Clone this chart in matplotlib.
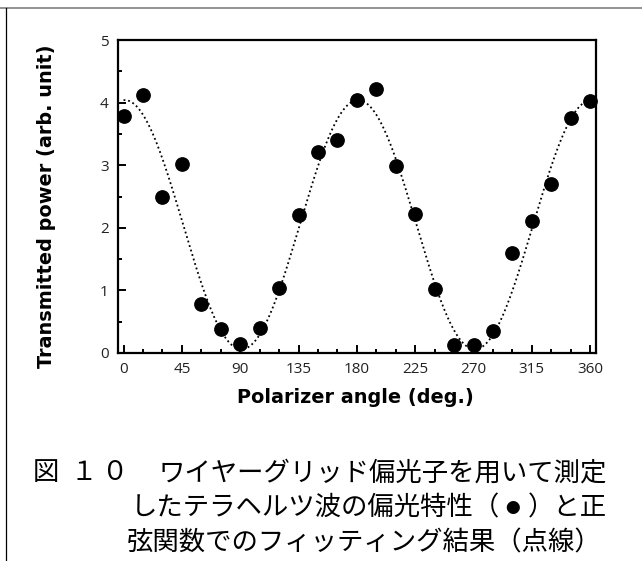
import numpy as np
import matplotlib
matplotlib.use("Agg")
import matplotlib.pyplot as plt
from matplotlib.lines import Line2D
from matplotlib.ticker import MultipleLocator

# ---- data ----
angle_deg = [0, 15, 30, 45, 60, 75, 90, 105, 120, 135, 150, 165, 180, 195,
             210, 225, 240, 255, 270, 285, 300, 315, 330, 345, 360]
power = [3.79, 4.12, 2.50, 3.02, 0.79, 0.39, 0.15, 0.40, 1.04, 2.20, 3.21, 3.41, 4.04, 4.21,
         2.99, 2.22, 1.03, 0.13, 0.12, 0.35, 1.59, 2.11, 2.70, 3.76, 4.02]

# sinusoidal fit parameters: offset + amp*cos^2(theta - phase)
fit_offset = 0.06
fit_amplitude = 3.98
fit_phase_deg = 1.0

x_ticks = [0, 45, 90, 135, 180, 225, 270, 315, 360]
y_ticks = [0, 1, 2, 3, 4, 5]

xlabel = "Polarizer angle (deg.)"
ylabel = "Transmitted power (arb. unit)"
cap_fig_no = ["図", "１", "０"]
cap_line1 = "ワイヤーグリッド偏光子を用いて測定"
cap_line2a = "したテラヘルツ波の偏光特性（"
cap_line2_mark = "●"
cap_line2b = "）と正"
cap_line3 = "弦関数でのフィッティング結果（点線）"

W, H = 642, 561
fig = plt.figure(figsize=(W / 100, H / 100), dpi=100)
fig.patch.set_facecolor("white")

def fx(px):
    return px / W

def fy(py):
    return 1 - py / H

ax = fig.add_axes([fx(117.7), fy(353), (596 - 117.7) / W, (353 - 40) / H])

theta = np.linspace(0, 360, 721)
fit = fit_offset + fit_amplitude * np.cos(np.radians(theta - fit_phase_deg)) ** 2
ax.plot(theta, fit, linestyle=(0, (1, 1.6)), color="black", lw=1.3, zorder=2)
ax.plot(angle_deg, power, "o", color="black", ms=9.6, zorder=5, clip_on=False)

ax.set_xlim(-4.5, 364.5)
ax.set_ylim(0, 5)
ax.set_xticks(x_ticks)
ax.set_yticks(y_ticks)
ax.xaxis.set_minor_locator(MultipleLocator(15))
ax.yaxis.set_minor_locator(MultipleLocator(0.5))
ax.tick_params(which="both", direction="in", top=False, right=False, width=1.4,
               labelsize=11, colors="black")
ax.tick_params(which="major", length=5.5, pad=6.5)
ax.tick_params(which="minor", length=2.8)
for lab in ax.get_xticklabels() + ax.get_yticklabels():
    lab.set_fontfamily("Open Sans")
    lab.set_color("#222222")
for s in ax.spines.values():
    s.set_linewidth(1.6)

ax.set_xlabel(xlabel, fontsize=13.9, fontweight="bold", family="DejaVu Sans")
ax.set_ylabel(ylabel, fontsize=13.9, fontweight="bold", family="DejaVu Sans")
ax.xaxis.set_label_coords(0.497, (353 - 388) / 313)
ax.yaxis.set_label_coords((56 - 117.7) / 478.3, (353 - 206) / 313)

# caption
cap_font = ["Noto Sans CJK JP", "DejaVu Sans"]
cap_size = 19
y1, y2, y3 = 473, 508, 543
for ch, cx in zip(cap_fig_no, [46, 84, 115]):
    fig.text(fx(cx), fy(y1), ch, fontsize=cap_size, family=cap_font, ha="center", va="center")
fig.text(fx(607), fy(y1), cap_line1, fontsize=cap_size, family=cap_font, ha="right", va="center")
fig.text(fx(131), fy(y2), cap_line2a, fontsize=cap_size, family=cap_font, ha="left", va="center")
fig.text(fx(513), fy(y2 + 1), cap_line2_mark, fontsize=10.5, family=cap_font, ha="center", va="center")
fig.text(fx(607), fy(y2), cap_line2b, fontsize=cap_size, family=cap_font, ha="right", va="center")
fig.text(fx(127), fy(y3), cap_line3, fontsize=cap_size, family=cap_font, ha="left", va="center")

# page frame lines
fig.add_artist(Line2D([0, 1], [fy(7.5), fy(7.5)], transform=fig.transFigure,
                      color="#808080", lw=1.2))
fig.add_artist(Line2D([fx(6), fx(6)], [0, fy(8)], transform=fig.transFigure,
                      color="black", lw=0.9))

fig.savefig("out.png", dpi=100)
